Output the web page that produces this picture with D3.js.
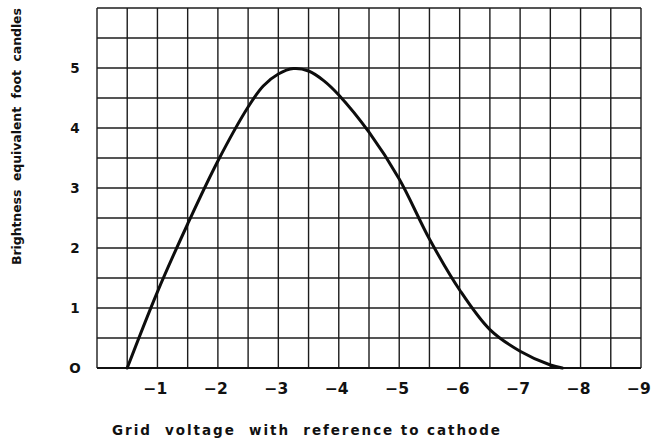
<!DOCTYPE html>
<html>
<head>
<meta charset="utf-8">
<script src="https://cdn.jsdelivr.net/npm/d3@7"></script>
<style>
  html, body { margin: 0; padding: 0; background: #fff; }
  svg { display: block; }
  text { font-family: "DejaVu Sans", sans-serif; fill: #111; white-space: pre; }
</style>
</head>
<body>
<svg id="chart" width="665" height="446"></svg>
<script>
// Grid voltage (volts, relative to cathode) and brightness (equivalent foot candles)
const gridVoltage = [-0.5, -1.0, -1.5, -2.0, -2.5, -2.75, -3.0, -3.25, -3.5, -3.75, -4.0,
                     -4.5, -5.0, -5.5, -6.0, -6.5, -7.0, -7.5, -7.7];
const brightness  = [0, 1.27, 2.4, 3.45, 4.35, 4.7, 4.9, 4.99, 4.95, 4.79, 4.55,
                     3.93, 3.15, 2.15, 1.3, 0.64, 0.28, 0.05, 0];

const xTickValues = [-1, -2, -3, -4, -5, -6, -7, -8, -9];
const xTickLabels = ["\u22121", "\u22122", "\u22123", "\u22124", "\u22125", "\u22126", "\u22127", "\u22128", "\u22129"];
const yTickValues = [0, 1, 2, 3, 4, 5];
const yTickLabels = ["O", "1", "2", "3", "4", "5"];

const xTitle = "Grid  voltage  with  reference to cathode";
const yTitle = "Brightness  equivalent  foot  candles";

const svg = d3.select("#chart");

const x = d3.scaleLinear().domain([0, -9]).range([97, 641]);
const y = d3.scaleLinear().domain([0, 6]).range([368, 8]);

// half-unit graph-paper grid
const gridX = d3.range(0, -9.01, -0.5);
const gridY = d3.range(0, 6.01, 0.5);

const grid = svg.append("g").attr("stroke", "#1c1c1c").attr("stroke-width", 1.4);
grid.selectAll("line.v").data(gridX).join("line")
  .attr("class", "v")
  .attr("x1", d => x(d)).attr("x2", d => x(d))
  .attr("y1", y(6)).attr("y2", y(0));
grid.selectAll("line.h").data(gridY).join("line")
  .attr("class", "h")
  .attr("x1", x(0)).attr("x2", x(-9))
  .attr("y1", d => y(d)).attr("y2", d => y(d));

// baseline drawn a little heavier
svg.append("line")
  .attr("x1", x(0)).attr("x2", x(-9))
  .attr("y1", y(0)).attr("y2", y(0))
  .attr("stroke", "#111").attr("stroke-width", 2.2);

// x tick labels
svg.append("g").selectAll("text").data(xTickValues).join("text")
  .attr("x", d => x(d) - 2)
  .attr("y", 394)
  .attr("text-anchor", "middle")
  .attr("font-size", 15.5)
  .attr("font-weight", "bold")
  .text((d, i) => xTickLabels[i]);

// y tick labels
svg.append("g").selectAll("text").data(yTickValues).join("text")
  .attr("x", 75)
  .attr("y", d => y(d) + 5)
  .attr("text-anchor", "middle")
  .attr("font-size", 13.5)
  .attr("font-weight", "bold")
  .text((d, i) => yTickLabels[i]);

// brightness curve
const line = d3.line()
  .x((d, i) => x(gridVoltage[i]))
  .y(d => y(d))
  .curve(d3.curveCatmullRom.alpha(0.5));

svg.append("path")
  .datum(brightness)
  .attr("d", line)
  .attr("fill", "none")
  .attr("stroke", "#0d0d0d")
  .attr("stroke-width", 3)
  .attr("stroke-linejoin", "round")
  .attr("stroke-linecap", "round");

// axis titles
svg.append("text")
  .attr("x", 112)
  .attr("y", 435)
  .attr("font-size", 13.5)
  .attr("font-weight", "bold")
  .attr("textLength", 388)
  .attr("lengthAdjust", "spacing")
  .text(xTitle);

svg.append("text")
  .attr("transform", "translate(21,265) rotate(-90)")
  .attr("x", 0)
  .attr("y", 0)
  .attr("font-size", 12.5)
  .attr("font-weight", "bold")
  .attr("textLength", 257)
  .attr("lengthAdjust", "spacing")
  .text(yTitle);
</script>
</body>
</html>
